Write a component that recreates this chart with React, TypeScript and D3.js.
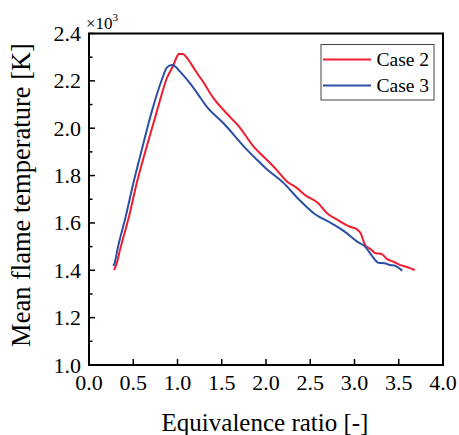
import React from "react";
import * as d3 from "d3";

const case2X = [0.283, 0.31, 0.35, 0.452, 0.539, 0.641, 0.766, 0.879, 0.954, 0.99, 1.01, 1.06, 1.09, 1.123, 1.2, 1.236, 1.3, 1.4, 1.52, 1.6, 1.7, 1.86, 2.0, 2.12, 2.24, 2.34, 2.44, 2.59, 2.69, 2.8, 2.95, 3.02, 3.07, 3.12, 3.18, 3.24, 3.3, 3.37, 3.44, 3.52, 3.6, 3.68];
const case2Y = [1.401, 1.425, 1.486, 1.627, 1.768, 1.908, 2.07, 2.211, 2.267, 2.3, 2.313, 2.313, 2.305, 2.289, 2.245, 2.225, 2.19, 2.13, 2.077, 2.045, 2.005, 1.922, 1.87, 1.824, 1.774, 1.75, 1.718, 1.683, 1.641, 1.615, 1.584, 1.575, 1.556, 1.507, 1.49, 1.472, 1.47, 1.447, 1.436, 1.422, 1.413, 1.401];

const case3X = [0.275, 0.29, 0.32, 0.415, 0.501, 0.596, 0.709, 0.829, 0.879, 0.935, 0.96, 1.029, 1.14, 1.236, 1.33, 1.52, 1.77, 1.9, 2.0, 2.2, 2.37, 2.54, 2.75, 2.9, 3.03, 3.12, 3.2, 3.27, 3.34, 3.4, 3.45, 3.54];
const case3Y = [1.418, 1.43, 1.486, 1.627, 1.768, 1.908, 2.07, 2.211, 2.256, 2.267, 2.265, 2.239, 2.19, 2.141, 2.091, 2.021, 1.915, 1.866, 1.83, 1.768, 1.7, 1.641, 1.596, 1.56, 1.521, 1.5, 1.46, 1.432, 1.43, 1.422, 1.42, 1.398];

const xTicks = [0, 0.5, 1, 1.5, 2, 2.5, 3, 3.5, 4];
const yTicks = [1.0, 1.2, 1.4, 1.6, 1.8, 2.0, 2.2, 2.4];
const yMinorTicks = [1.1, 1.3, 1.5, 1.7, 1.9, 2.1, 2.3];
const seriesNames = ["Case 2", "Case 3"];
const seriesColors = ["#ee1c2e", "#2b50a6"];

export default function App() {
  const x = d3.scaleLinear().domain([0, 4]).range([89, 443]);
  const y = d3.scaleLinear().domain([1.0, 2.4]).range([365, 33.5]);
  const font = "'Liberation Serif', 'Times New Roman', serif";
  const line = d3
    .line<[number, number]>()
    .x((d) => x(d[0]))
    .y((d) => y(d[1]))
    .curve(d3.curveMonotoneX);
  const s2 = case2X.map((v, i) => [v, case2Y[i]] as [number, number]);
  const s3 = case3X.map((v, i) => [v, case3Y[i]] as [number, number]);
  const series = [s2, s3];

  return (
    <svg
      width={459}
      height={435}
      style={{ position: "absolute", left: 0, top: 0, background: "#fff" }}
      fontFamily={font}
    >
      {series.map((s, i) => (
        <path key={i} d={line(s) || ""} fill="none" stroke={seriesColors[i]} strokeWidth={2} strokeLinejoin="round" />
      ))}
      <rect x={x(0)} y={y(2.4)} width={x(4) - x(0)} height={y(1.0) - y(2.4)} fill="none" stroke="#000" strokeWidth={2} />
      {xTicks.map((t) => (
        <g key={"x" + t}>
          <line x1={x(t)} x2={x(t)} y1={y(1.0)} y2={y(1.0) - 6} stroke="#000" strokeWidth={1.5} />
          <text x={x(t)} y={390} fontSize={22} textAnchor="middle">
            {t.toFixed(1)}
          </text>
        </g>
      ))}
      {yTicks.map((t) => (
        <g key={"y" + t}>
          <line x1={x(0)} x2={x(0) + 6} y1={y(t)} y2={y(t)} stroke="#000" strokeWidth={1.5} />
          <text x={81} y={y(t) + 7.5} fontSize={22} textAnchor="end">
            {t.toFixed(1)}
          </text>
        </g>
      ))}
      {yMinorTicks.map((t) => (
        <line key={"ym" + t} x1={x(0)} x2={x(0) + 3.5} y1={y(t)} y2={y(t)} stroke="#000" strokeWidth={1.5} />
      ))}
      <text x={86} y={29} fontSize={17}>
        ×10
        <tspan fontSize={11} dy={-8}>3</tspan>
      </text>
      <text x={265} y={431} fontSize={25} textAnchor="middle">
        Equivalence ratio [-]
      </text>
      <text transform="translate(30,195) rotate(-90)" fontSize={26.5} textAnchor="middle">
        Mean flame temperature [K]
      </text>
      <rect x={321} y={44.5} width={113} height={55.5} fill="#fff" stroke="#444" strokeWidth={1} />
      {seriesNames.map((n, i) => (
        <g key={n}>
          <line x1={323} x2={371} y1={59.5 + i * 26} y2={59.5 + i * 26} stroke={seriesColors[i]} strokeWidth={2} />
          <text x={376.5} y={66 + i * 26} fontSize={19.5}>
            {n}
          </text>
        </g>
      ))}
    </svg>
  );
}
